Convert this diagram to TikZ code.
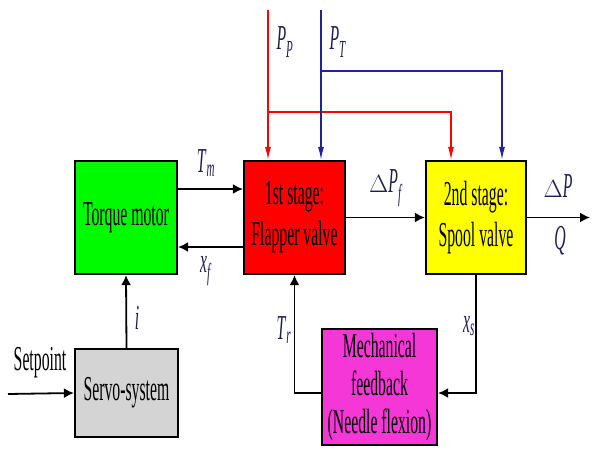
\documentclass[tikz,border=0pt]{standalone}
\usepackage{fontspec}
\setmainfont[FakeStretch=0.45]{Liberation Serif}
\usetikzlibrary{arrows.meta}
\definecolor{cgreen}{RGB}{0,250,0}
\definecolor{cred}{RGB}{255,0,0}
\definecolor{cyellow}{RGB}{255,255,0}
\definecolor{cmag}{RGB}{245,55,215}
\definecolor{cgray}{RGB}{212,212,212}
\definecolor{cblue}{RGB}{35,35,150}
\definecolor{lblcol}{RGB}{30,30,80}
\newcommand{\lab}[2]{\textit{#1}\textsubscript{\textit{#2}}}
\tikzset{
  blk/.style={draw=black, line width=2.2pt, inner sep=0pt, align=center,
    font=\fontsize{35}{41}\selectfont},
  lbl/.style={inner sep=0pt, text=lblcol, font=\fontsize{35}{38}\selectfont},
  arr/.style={line width=1.8pt, -{Latex[length=10pt,width=10pt]}},
  redarr/.style={cred, line width=1.3pt, -{Latex[length=13pt,width=6pt]}},
  bluearr/.style={cblue, line width=1.3pt, -{Latex[length=13pt,width=6pt]}},
}
\begin{document}
\begin{tikzpicture}[x=1pt,y=-1pt]
\useasboundingbox (0,0) rectangle (592,457);
% blocks
\node[blk, fill=cgreen, minimum width=102pt, minimum height=113pt] (tm) at (126,217.5) {Torque motor};
\node[blk, fill=cred, minimum width=101pt, minimum height=113pt] (fl) at (294.5,217.5) {1st stage:\\Flapper valve};
\node[blk, fill=cyellow, minimum width=100pt, minimum height=113pt] (sp) at (476,217.5) {2nd stage:\\Spool valve};
\node[blk, fill=cmag, minimum width=115pt, minimum height=116pt, font=\fontsize{35}{38}\selectfont] (fb) at (379.5,387) {Mechanical\\feedback\\(Needle flexion)};
\node[blk, fill=cgray, minimum width=103pt, minimum height=88pt] (sv) at (126.5,393) {Servo-system};
% helper coordinates
\coordinate (yTm) at (0,189);
\coordinate (yXf) at (0,247);
\coordinate (yFb) at (0,393);
\coordinate (spIn) at (8,394);
\coordinate (outEnd) at (590,217.5);
\coordinate (ppTop) at (268,10);
\coordinate (ppB) at (268,112);
\coordinate (ppR) at (451,112);
\coordinate (ptTop) at (321,10);
\coordinate (ptB) at (321,71);
\coordinate (ptR) at (502,71);
% black connectors
\draw[arr] (tm.east |- yTm) -- (fl.west |- yTm);
\draw[arr] (fl.west |- yXf) -- (tm.east |- yXf);
\draw[arr] (fl.east) -- (sp.west);
\draw[arr] (sp.east) -- (outEnd);
\draw[arr] (sv.north) -- (tm.south);
\draw[arr] (spIn) -- (sv.west);
\draw[arr] (sp.south) -- (sp.south |- yFb) -- (fb.east |- yFb);
\draw[arr] (fb.west |- yFb) -| (fl.south);
% pressure lines
\draw[redarr] (ppTop) -- (ppTop |- fl.north);
\draw[redarr] (ppB) -- (ppR) -- (ppR |- sp.north);
\draw[bluearr] (ptTop) -- (ptTop |- fl.north);
\draw[bluearr] (ptB) -- (ptR) -- (ptR |- sp.north);
% labels
\node[lbl] (lTm) at (206,163) {\lab{T}{m}};
\node[lbl] (lXf) at (206,271) {\lab{x}{f}};
\node[lbl] (lDPf) at (386,188) {$\Delta$\lab{P}{f}};
\node[lbl] (lDP) at (558,186) {$\Delta$\textit{P}};
\node[lbl] (lQ) at (560,241) {\textit{Q}};
\node[lbl] (lPP) at (285,42) {\lab{P}{P}};
\node[lbl] (lPT) at (338,42) {\lab{P}{T}};
\node[lbl] (li) at (137,318) {\textit{i}};
\node[lbl] (lTr) at (284,330) {\lab{T}{r}};
\node[lbl] (lXs) at (469,326) {\lab{x}{s}};
\node[lbl, text=black] (lSet) at (40,363) {Setpoint};
\end{tikzpicture}
\end{document}
